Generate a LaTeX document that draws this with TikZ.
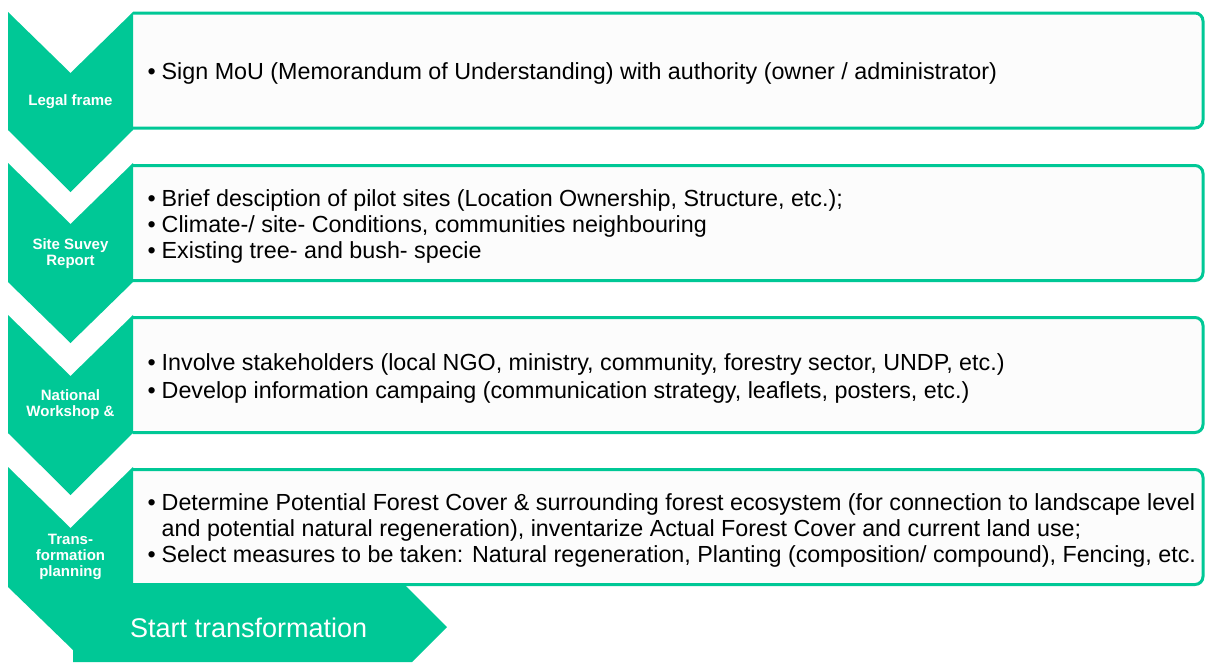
\documentclass[tikz,border=0pt]{standalone}
\usepackage{fontspec}
\setmainfont{Liberation Sans}
\usetikzlibrary{positioning}
\definecolor{mint}{RGB}{0,200,150}
\definecolor{paper}{RGB}{252,252,252}
\newcommand{\bitem}{\makebox[14pt][l]{\textbullet}}
\newcommand{\bcont}{\hspace*{14pt}}

\begin{document}
\begin{tikzpicture}[x=1pt,y=-1pt,
    chevron/.style={
      fill=mint,
      draw=none
    },
    infobox/.style={
      draw=mint,
      line width=3pt,
      fill=paper,
      rounded corners=8pt,
      minimum width=1083pt,
      minimum height=115pt,
      inner sep=0pt
    },
    boxtext/.style={
      align=left,
      inner sep=0pt,
      yshift=-3pt,
      font=\fontsize{23.3}{26}\selectfont
    },
    steplabel/.style={
      text=white,
      align=center,
      inner sep=0pt,
      font=\bfseries\fontsize{15}{16}\selectfont
    },
    startlabel/.style={
      text=white,
      inner sep=0pt,
      font=\fontsize{27}{32}\selectfont
    }
  ]
  \useasboundingbox (0,0) rectangle (1205,662);

  % boxes, left edge hidden under the chevrons
  \begin{scope}
    \clip (133,0) rectangle (1205,662);
    \node[infobox] (legal) at (661.5,70.5) {};
    \node[infobox] (survey) at (661.5,223) {};
    \node[infobox] (workshop) at (661.5,375) {};
    \node[infobox] (planning) at (661.5,527) {};
  \end{scope}

  \node[boxtext,right=29pt of legal.west] (legaltext) {\bitem Sign MoU (Memorandum of Understanding) with authority (owner / administrator)};
  \node[boxtext,right=29pt of survey.west] (surveytext) {\bitem Brief desciption of pilot sites (Location Ownership, Structure, etc.);\\
    \bitem Climate-/ site- Conditions, communities neighbouring\\
    \bitem Existing tree- and bush- specie};
  \node[boxtext,right=29pt of workshop.west] (workshoptext) {\bitem Involve stakeholders (local NGO, ministry, community, forestry sector, UNDP, etc.)\\[2pt]
    \bitem Develop information campaing (communication strategy, leaflets, posters, etc.)};
  \node[boxtext,right=29pt of planning.west] (planningtext) {\bitem Determine Potential Forest Cover \& surrounding forest ecosystem (for connection to landscape level\\
    \bcont and potential natural regeneration), inventarize Actual Forest Cover and current land use;\\
    \bitem Select measures to be taken: Natural regeneration, Planting (composition/ compound), Fencing, etc.};

  \fill[chevron] (8,12) -- (70.5,73) -- (133,12) -- (133,130) -- (70.5,192) -- (8,130) -- cycle;
  \fill[chevron] (8,163) -- (70.5,224) -- (133,163) -- (133,282) -- (70.5,343) -- (8,282) -- cycle;
  \fill[chevron] (8,315) -- (70.5,376) -- (133,315) -- (133,433) -- (70.5,495) -- (8,433) -- cycle;
  % last step runs into the start arrow
  \fill[chevron] (8,467) -- (70.5,528) -- (133,467) -- (133,585) -- (405,585) -- (447,627)
    -- (412,662) -- (73,662) -- (73,650) -- (8,587) -- cycle;

  \node[steplabel] (legallbl) at (70.5,102) {Legal frame};
  \node[steplabel] (surveylbl) at (70.5,254) {Site Suvey\\Report};
  \node[steplabel] (workshoplbl) at (70.5,405) {National\\Workshop \&};
  \node[steplabel] (planninglbl) at (70.5,557) {Trans-\\formation\\planning};

  \node[startlabel,anchor=west] (start) at (130,628) {Start transformation};

\end{tikzpicture}
\end{document}
